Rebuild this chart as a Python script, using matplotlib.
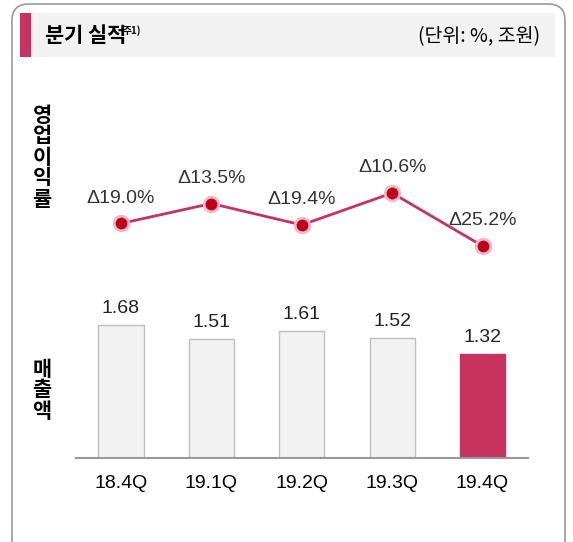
import matplotlib
matplotlib.use("Agg")
import matplotlib.pyplot as plt
from matplotlib.patches import FancyBboxPatch, Rectangle

plt.rcParams['font.family'] = ['Noto Sans CJK KR', 'DejaVu Sans']

quarters = ["18.4Q", "19.1Q", "19.2Q", "19.3Q", "19.4Q"]
sales = [1.68, 1.51, 1.61, 1.52, 1.32]
margin = [-19.0, -13.5, -19.4, -10.6, -25.2]
margin_labels = ["Δ19.0%", "Δ13.5%", "Δ19.4%", "Δ10.6%", "Δ25.2%"]

W, H = 573, 542
fig = plt.figure(figsize=(W/100, H/100), dpi=100)
pink = "#C8325F"
num_font = ['Liberation Sans', 'DejaVu Sans']

def fx(x): return x / W
def fy(y): return 1 - y / H

fig.patches.append(FancyBboxPatch((fx(12), fy(560)), fx(553), (560-4)/H,
    boxstyle="round,pad=0,rounding_size=0.03", transform=fig.transFigure,
    fill=False, edgecolor="#9A9A9A", linewidth=1.2))
fig.patches.append(Rectangle((fx(20), fy(57)), fx(535), 44/H, transform=fig.transFigure,
    facecolor="#F2F2F2", edgecolor="none"))
fig.patches.append(Rectangle((fx(20), fy(57)), fx(11), 44/H, transform=fig.transFigure,
    facecolor=pink, edgecolor="none"))
fig.text(fx(45), fy(36), "분기 실적", fontsize=15, fontweight="bold", va="center", ha="left")
fig.text(fx(123), fy(31), "주1)", fontsize=7, fontweight="bold", va="center", ha="left")
fig.text(fx(540), fy(37), "(단위: %, 조원)", fontsize=14, va="center", ha="right")

fig.text(fx(42), fy(157), "\n".join("영업이익률"), fontsize=15, fontweight="bold",
         ha="center", va="center", linespacing=1.0)
fig.text(fx(42), fy(390), "\n".join("매출액"), fontsize=15, fontweight="bold",
         ha="center", va="center", linespacing=1.0)

left = fx(75.75); width = 452 / W
x = list(range(len(quarters)))

axl = fig.add_axes([left, fy(263.4), width, 90.7/H])
axl.plot(x, margin, color=pink, linewidth=2, zorder=2)
axl.scatter(x, margin, s=110, facecolor="#C00018", edgecolor="#F0B8C8", linewidth=2, zorder=3)
for xi, v, lab in zip(x, margin, margin_labels):
    axl.annotate(lab, (xi, v), xytext=(0, 12), textcoords="offset points",
                 ha="center", va="bottom", fontsize=14, color="#333333", family=num_font)
axl.set_xlim(-0.5, 4.5)
axl.set_ylim(-30, -5)
axl.axis("off")

axb = fig.add_axes([left, fy(458), width, 158/H])
colors = ["#F2F2F2"] * 4 + [pink]
edges = ["#BFBFBF"] * 4 + [pink]
axb.bar(x, sales, width=0.5, color=colors, edgecolor=edges, linewidth=1)
for xi, v in zip(x, sales):
    axb.text(xi, v + 0.1, f"{v:.2f}", ha="center", va="bottom", fontsize=14,
             color="#222222", family=num_font)
axb.set_xlim(-0.5, 4.5)
axb.set_ylim(0, 2.0)
for s in ["top", "right", "left"]:
    axb.spines[s].set_visible(False)
axb.spines["bottom"].set_color("#999999")
axb.spines["bottom"].set_linewidth(1.5)
axb.set_yticks([])
axb.set_xticks(x)
axb.set_xticklabels(quarters, fontsize=14, family=num_font)
axb.tick_params(axis="x", length=0, pad=12)

fig.savefig("out.png", dpi=100)
